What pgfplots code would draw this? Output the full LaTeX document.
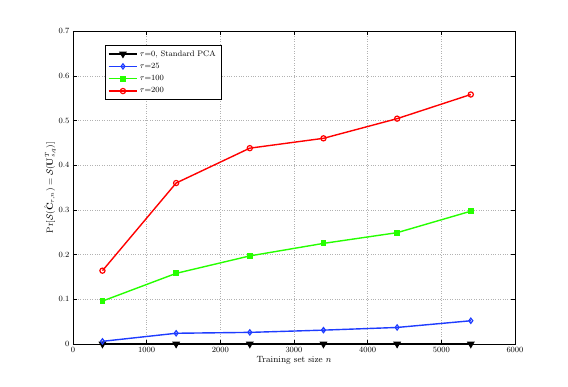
\documentclass[border=0pt]{standalone}
\usepackage{pgfplots}
\pgfplotsset{compat=1.18}
\usepackage{amsmath}
\definecolor{mblue}{RGB}{30,60,255}
\begin{document}
\begin{tikzpicture}
\begin{axis}[
  at={(0,0)}, anchor=south west,
  scale only axis,
  width=442pt, height=313pt,
  xmin=0, xmax=6000, ymin=0, ymax=0.7,
  xtick={0,1000,...,6000},
  ytick={0,0.1,...,0.7},
  scaled x ticks=false,
  /pgf/number format/set thousands separator={},
  tick align=inside,
  tick style={black, thin},
  grid=major,
  grid style={dotted, gray!60},
  tick label style={font=\footnotesize},
  label style={font=\small},
  xlabel={Training set size $n$},
  ylabel={$\Pr[\mathcal{S}(\hat{\mathbf{C}}_{\tau,n}) = \mathcal{S}(\mathbf{U}_{s,q}^T)]$},
  xlabel style={yshift=3pt},
  ylabel style={yshift=-4pt},
  legend style={font=\footnotesize, at={(0.072,0.955)}, anchor=north west,
    draw=black, cells={anchor=west}, row sep=1.5pt, inner sep=3pt},
  legend cell align=left,
  legend image code/.code={
    \draw[line width=1.4pt, mark repeat=2, mark phase=2] plot coordinates {(0cm,0cm) (0.5cm,0cm) (1.0cm,0cm)};},
  every axis plot/.append style={line width=1.4pt, mark size=2.6pt},
]
\addplot[black, mark=triangle*, mark size=3.2pt, mark options={fill=black, rotate=180}]
  coordinates {(400,0) (1400,0) (2400,0) (3400,0) (4400,0) (5400,0)};
\addplot[mblue, mark=diamond, mark options={line width=1.2pt}]
  coordinates {(400,0.006) (1400,0.024) (2400,0.026) (3400,0.031) (4400,0.037) (5400,0.052)};
\addplot[green!80!lime, mark=square*, mark size=2.2pt, mark options={fill=green!80!lime}]
  coordinates {(400,0.096) (1400,0.158) (2400,0.197) (3400,0.225) (4400,0.249) (5400,0.297)};
\addplot[red, mark=o, mark options={line width=1.2pt}]
  coordinates {(400,0.164) (1400,0.360) (2400,0.438) (3400,0.460) (4400,0.504) (5400,0.558)};
\legend{{$\tau$=0, Standard PCA}, {$\tau$=25}, {$\tau$=100}, {$\tau$=200}}
\end{axis}
\useasboundingbox (-73pt,-42pt) rectangle (495pt,344pt);
\end{tikzpicture}
\end{document}
